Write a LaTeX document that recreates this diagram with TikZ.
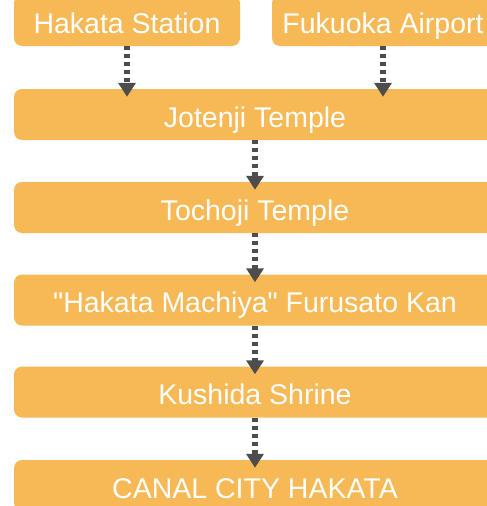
\documentclass[tikz,border=0pt]{standalone}
\usepackage{fontspec}
\setmainfont{Liberation Sans}[Ligatures=TeXOff]
\usetikzlibrary{arrows.meta,positioning}
\definecolor{boxorange}{HTML}{F6B956}
\definecolor{arrowgray}{HTML}{4D4D4D}
\tikzset{
	stop/.style={
			fill=boxorange, rounded corners=8pt, text=white, minimum height=51pt,
			inner sep=0pt, text height=25pt, text depth=0pt,
			font=\fontsize{28.5}{31}\selectfont
		},
	flow/.style={
			draw=arrowgray, line width=6pt, dash pattern=on 4pt off 4pt,
			-{Triangle[width=17pt,length=14pt]}, shorten >=-8pt
		}
}

\begin{document}
\begin{tikzpicture}[x=1pt,y=-1pt]
			\useasboundingbox (0,0) rectangle (487,506);
			
			% Starting points
			\node[stop, minimum width=226pt] (hakata) at (127,20.5) {Hakata Station};
			\node[stop, minimum width=222pt] (airport) at (383,20.5) {Fukuoka Airport};
			
			% Route
			\node[stop, minimum width=482pt] (jotenji) at (255,114.5) {Jotenji Temple};
			\node[stop, minimum width=482pt] (tochoji) at (255,207.5) {Tochoji Temple};
			\node[stop, minimum width=482pt] (machiya) at (255,300) {"Hakata Machiya" Furusato Kan};
			\node[stop, minimum width=482pt] (kushida) at (255,392) {Kushida Shrine};
			\node[stop, minimum width=482pt] (canal) at (255,485.5) {CANAL CITY HAKATA};
			
			% Arrows
			\draw[flow] (hakata.south) -- (hakata.south |- jotenji.north);
			\draw[flow] (airport.south) -- (airport.south |- jotenji.north);
			\draw[flow] (jotenji.south) -- (tochoji.north);
			\draw[flow] (tochoji.south) -- (machiya.north);
			\draw[flow] (machiya.south) -- (kushida.north);
			\draw[flow] (kushida.south) -- (canal.north);
			
		\end{tikzpicture}
\end{document}
